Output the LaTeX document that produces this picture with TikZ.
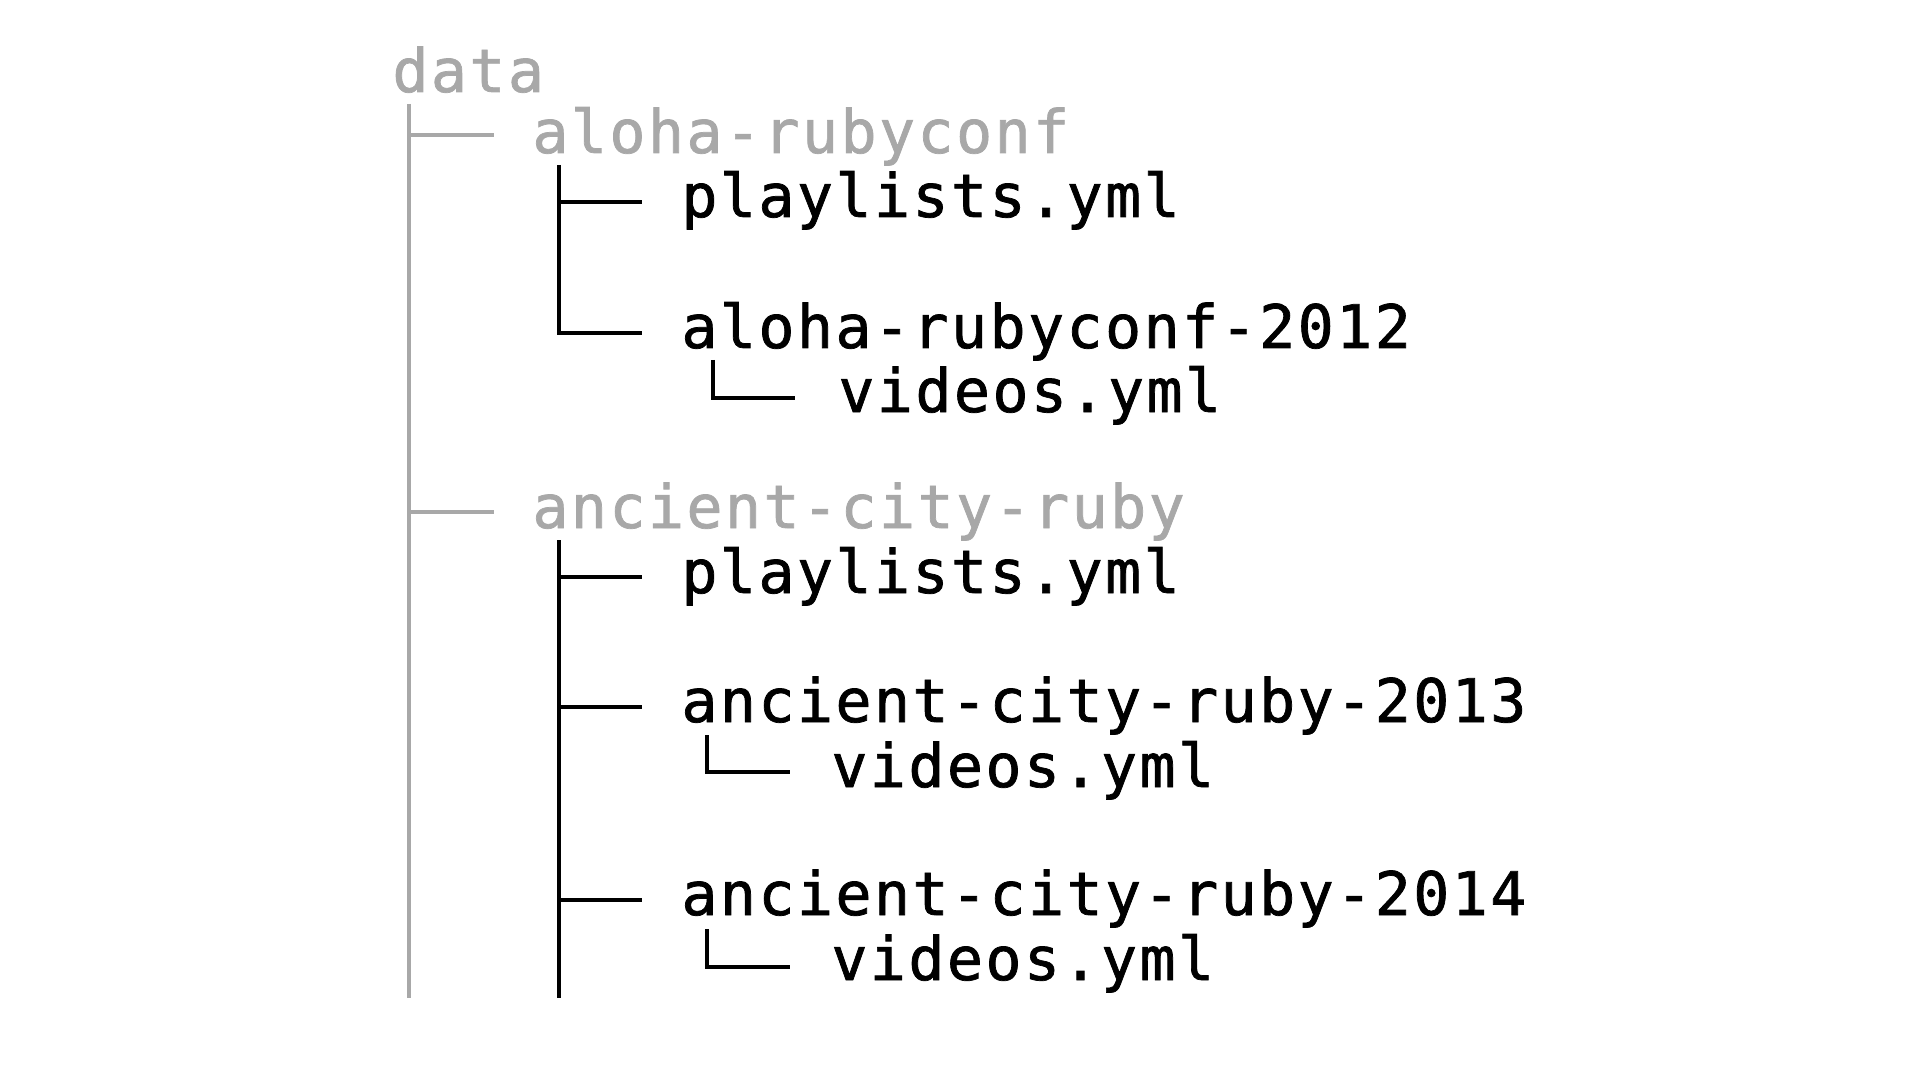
\documentclass[tikz,border=0pt]{standalone}
\usepackage{fontspec}
\newfontfamily\treefont[LetterSpace=4,FakeBold=1.2]{DejaVu Sans Mono}
\definecolor{treegrey}{HTML}{A8A8A8}
\tikzset{
  entry/.style={font=\treefont\fontsize{30pt}{36pt}\selectfont, anchor=base west, inner sep=0pt},
  folder/.style={entry, text=treegrey},
  file/.style={entry, text=black},
  trunk/.style={draw=treegrey, line width=1.7pt},
  branch/.style={draw=black, line width=2pt, line join=miter},
}
\begin{document}
\begin{tikzpicture}[x=0.5pt, y=-0.5pt]
\useasboundingbox[fill=white] (0,0) rectangle (1920,1080);
% texts
\node[folder] (data) at (392,92) {data};
\node[folder] (aloha) at (532,153) {aloha-rubyconf};
\node[file] (pl1) at (681,217) {playlists.yml};
\node[file] (ar12) at (681,348) {aloha-rubyconf-2012};
\node[file] (v1) at (838,412) {videos.yml};
\node[folder] (ancient) at (532,528) {ancient-city-ruby};
\node[file] (pl2) at (681,593) {playlists.yml};
\node[file] (acr13) at (681,722) {ancient-city-ruby-2013};
\node[file] (v2) at (831,787) {videos.yml};
\node[file] (acr14) at (681,915) {ancient-city-ruby-2014};
\node[file] (v3) at (831,980) {videos.yml};
% grey trunk
\coordinate (gtop) at (409,104);
\coordinate (gbot) at (409,998);
\draw[trunk] (gtop) -- (gbot);
\draw[trunk] (gtop |- 0,135) -- (494,135);
\draw[trunk] (gtop |- 0,512) -- (494,512);
% aloha branches
\coordinate (a1top) at (559,165);
\draw[branch] (a1top) -- (559,333) -- (642,333);
\draw[branch] (559,202) -- (642,202);
\draw[branch] (713,360) -- (713,398) -- (795,398);
% ancient branches
\coordinate (a2top) at (559,540);
\coordinate (a2bot) at (559,998);
\draw[branch] (a2top) -- (a2bot);
\draw[branch] (559,577) -- (642,577);
\draw[branch] (559,707) -- (642,707);
\draw[branch] (559,900) -- (642,900);
\draw[branch] (707,735) -- (707,772) -- (790,772);
\draw[branch] (707,929) -- (707,967) -- (790,967);
\end{tikzpicture}
\end{document}
